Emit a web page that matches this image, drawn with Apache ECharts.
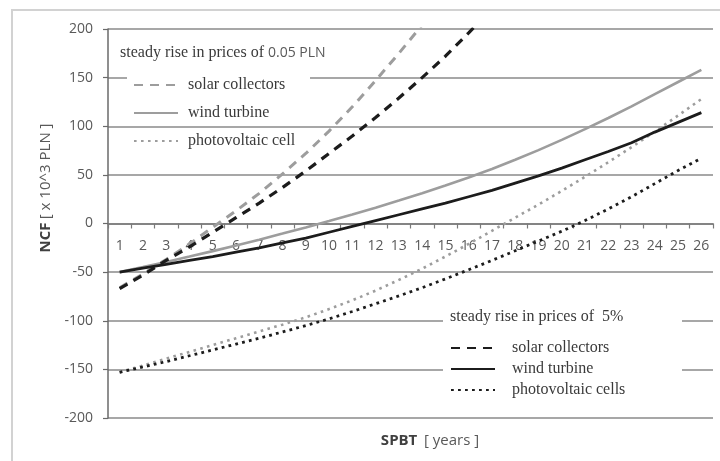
<!DOCTYPE html>
<html>
<head>
<meta charset="utf-8">
<script src="https://cdn.jsdelivr.net/npm/echarts@6/dist/echarts.min.js"></script>
<style>
  html, body { margin: 0; padding: 0; background: #fff; }
  #chart { width: 720px; height: 461px; }
</style>
</head>
<body>
<div id="chart"></div>
<script>
// Simple payback time: net cash flow per year of operation
const years = ['1','2','3','4','5','6','7','8','9','10','11','12','13','14','15','16','17','18','19','20','21','22','23','24','25','26'];

// steady rise in prices of 0.05 PLN
const solarFixed = [-66, -52, -37, -21, -4, 13, 31, 51, 72, 95, 120, 147, 175, 204, 234, null, null, null, null, null, null, null, null, null, null, null];
const windFixed = [-50, -44.8, -39.5, -34, -28.4, -22.6, -16.6, -10.4, -4, 2.5, 9.3, 16.3, 23.6, 31.2, 39.1, 47.3, 56, 65.5, 75.5, 86, 97, 108.5, 120.5, 133, 145.5, 158];
const pvFixed = [-153, -146, -139, -132, -125, -118, -111, -104, -96.5, -88, -79, -69, -58, -46.5, -34, -21, -7.5, 6, 19.5, 33.5, 48, 63, 78.5, 94.5, 111, 128];

// steady rise in prices of 5%
const solarPct = [-67, -53, -38, -24, -9, 6, 21, 37, 54, 72, 90, 109, 129, 150, 172, 196, 221, null, null, null, null, null, null, null, null, null];
const windPct = [-50, -46, -42, -38, -34, -29.5, -25, -20, -15, -9, -3, 3, 9, 15, 21, 27.5, 34, 41.5, 49, 57, 65.5, 74, 83, 94, 104, 114];
const pvPct = [-153, -147.5, -142, -136, -130, -124, -118, -111.5, -105, -98, -90.5, -82.5, -74.5, -66, -57, -47.5, -38, -28, -18, -8, 3, 15, 27.5, 41, 54.5, 67];

const yMin = -200;
const yMax = 200;
const yStep = 50;

const namesFixed = ['solar collectors', 'wind turbine', 'photovoltaic cell'];
const namesPct = ['solar collectors', 'wind turbine', 'photovoltaic cells'];
const groupFixed = 'steady rise in prices of ';
const groupFixedValue = '0.05 PLN';
const groupPct = 'steady rise in prices of ';
const groupPctValue = ' 5%';

const GRAY = '#9d9d9d';
const BLACK = '#1c1c1c';
const LABEL = '#595959';
const SERIF = '"Liberation Serif", "DejaVu Serif", serif';
const SANS = '"Open Sans", "Liberation Sans", sans-serif';

const idsFixed = ['fixed-solar', 'fixed-wind', 'fixed-pv'];
const idsPct = ['pct-solar', 'pct-wind', 'pct-pv'];
const labelOf = {};
idsFixed.forEach((id, i) => labelOf[id] = namesFixed[i]);
idsPct.forEach((id, i) => labelOf[id] = namesPct[i]);

// plot rectangle
const W = 720, H = 461;
const G = { left: 108, right: 7, top: 29, bottom: 43 };
const plotH = H - G.top - G.bottom;
// the category axis runs along the value 0, not the bottom edge
const zeroOffset = -plotH * (0 - yMin) / (yMax - yMin);

function line(id, data, color, width, type) {
  return {
    name: id, type: 'line', data: data, symbol: 'none', smooth: false,
    connectNulls: false, z: 3,
    lineStyle: { color: color, width: width, type: type, cap: 'butt' },
    itemStyle: { color: color },
    emphasis: { disabled: true }
  };
}

const chart = echarts.init(document.getElementById('chart'), null, { renderer: 'canvas' });
chart.setOption({
  animation: false,
  backgroundColor: '#fff',
  grid: { left: G.left, right: G.right, top: G.top, bottom: G.bottom, containLabel: false },
  xAxis: {
    type: 'category', data: years, boundaryGap: true,
    position: 'bottom', offset: zeroOffset,
    axisLine: { show: true, onZero: false, lineStyle: { color: '#7a7a7a', width: 1.5 } },
    axisTick: { show: true, length: 5, lineStyle: { color: '#7a7a7a', width: 1.2 } },
    axisLabel: { color: LABEL, fontFamily: SANS, fontSize: 14, margin: 16, interval: 0 },
    splitLine: { show: false }
  },
  yAxis: {
    type: 'value', min: yMin, max: yMax, interval: yStep,
    axisLine: { show: true, onZero: false, lineStyle: { color: '#6a6a6a', width: 1.5 } },
    axisTick: { show: true, length: 5, lineStyle: { color: '#6a6a6a', width: 1.2 } },
    axisLabel: { color: LABEL, fontFamily: SANS, fontSize: 14, margin: 15 },
    splitLine: { show: true, lineStyle: { color: '#8a8a8a', width: 1.6 } }
  },
  legend: [
    {
      data: idsFixed, orient: 'vertical', left: 133, top: 76, padding: 0,
      itemWidth: 44, itemHeight: 14, itemGap: 10, selectedMode: false, z: 6,
      itemStyle: { opacity: 0 },
      formatter: n => labelOf[n],
      textStyle: { fontFamily: SERIF, fontSize: 16, color: '#3a3a3a', lineHeight: 18, padding: [0, 0, 0, 5] }
    },
    {
      data: idsPct, orient: 'vertical', left: 450, top: 339, padding: 0,
      itemWidth: 44, itemHeight: 14, itemGap: 3, selectedMode: false, z: 6,
      itemStyle: { opacity: 0 },
      formatter: n => labelOf[n],
      textStyle: { fontFamily: SERIF, fontSize: 16, color: '#3a3a3a', lineHeight: 18, padding: [0, 0, 0, 12] }
    }
  ],
  graphic: [
    { type: 'rect', z: 0, silent: true,
      shape: { x: 12, y: 10, width: 720, height: 470 },
      style: { fill: 'none', stroke: '#d2d2d2', lineWidth: 2 } },
    { type: 'rect', z: 1, silent: true,
      shape: { x: 127, y: 38, width: 183, height: 84 },
      style: { fill: '#fff' } },
    { type: 'rect', z: 1, silent: true,
      shape: { x: 443, y: 303, width: 239, height: 100 },
      style: { fill: '#fff' } },
    { type: 'text', z: 6, silent: true, x: 120, y: 53,
      style: {
        text: '{a|' + groupFixed + '}{b|' + groupFixedValue + '}',
        verticalAlign: 'middle',
        rich: {
          a: { fontFamily: SERIF, fontSize: 16, fill: '#3a3a3a' },
          b: { fontFamily: SANS, fontSize: 14, fill: LABEL }
        }
      } },
    { type: 'text', z: 6, silent: true, x: 450, y: 317,
      style: {
        text: '{a|' + groupPct + '}{b|' + groupPctValue + '}',
        verticalAlign: 'middle',
        rich: {
          a: { fontFamily: SERIF, fontSize: 16, fill: '#3a3a3a' },
          b: { fontFamily: SERIF, fontSize: 16, fill: '#3a3a3a' }
        }
      } },
    { type: 'text', z: 6, silent: true, x: 46, y: 188, rotation: Math.PI / 2,
      style: {
        text: '{a|NCF} {b|[ x 10^3 PLN ]}',
        align: 'center', verticalAlign: 'middle',
        rich: {
          a: { fontFamily: SANS, fontSize: 15, fontWeight: 'bold', fill: '#404040' },
          b: { fontFamily: SANS, fontSize: 15, fill: LABEL }
        }
      } },
    { type: 'text', z: 6, silent: true, x: 430, y: 441,
      style: {
        text: '{a|SPBT}  {b|[ years ]}',
        align: 'center', verticalAlign: 'middle',
        rich: {
          a: { fontFamily: SANS, fontSize: 15, fontWeight: 'bold', fill: '#404040' },
          b: { fontFamily: SANS, fontSize: 15, fill: LABEL }
        }
      } }
  ],
  series: [
    line('fixed-solar', solarFixed, GRAY, 3, [9, 7]),
    line('fixed-wind', windFixed, GRAY, 2.6, 'solid'),
    line('fixed-pv', pvFixed, GRAY, 2.6, [2.6, 4.4]),
    line('pct-solar', solarPct, BLACK, 3.2, [9, 7]),
    line('pct-wind', windPct, BLACK, 2.8, 'solid'),
    line('pct-pv', pvPct, BLACK, 2.8, [2.8, 4.2])
  ]
});
</script>
</body>
</html>
